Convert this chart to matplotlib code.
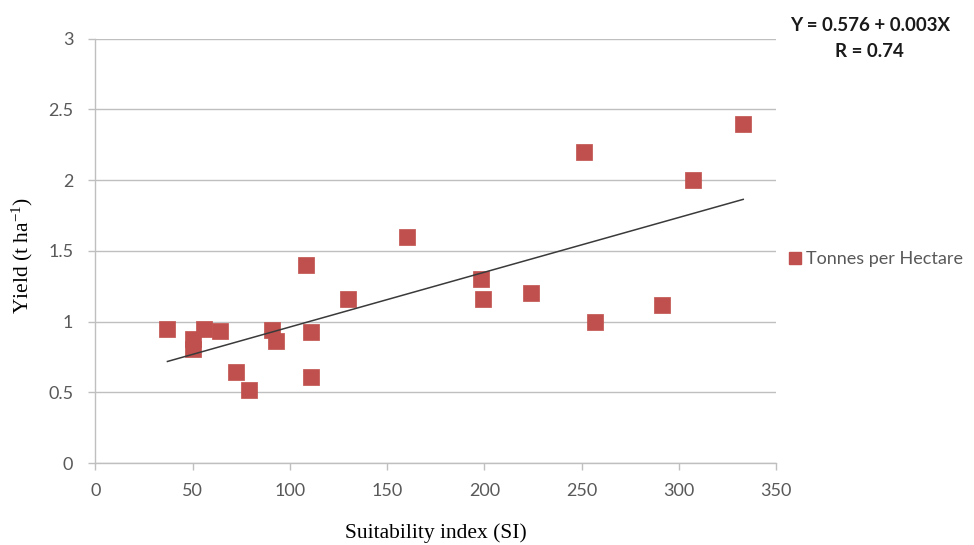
import numpy as np
import matplotlib
matplotlib.use("Agg")
import matplotlib.pyplot as plt
from matplotlib.lines import Line2D

plt.rcParams["mathtext.fontset"] = "custom"
plt.rcParams["mathtext.rm"] = "Liberation Serif"
plt.rcParams["mathtext.it"] = "Liberation Serif:italic"

# suitability index vs yield
si = [37, 50, 50, 56, 64, 72, 79, 91, 93, 108, 111, 111, 130,
      160, 198, 199, 224, 251, 257, 291, 307, 333]
yld = [0.95, 0.88, 0.81, 0.95, 0.935, 0.645, 0.52, 0.94, 0.865, 1.40, 0.93, 0.61, 1.16,
       1.60, 1.30, 1.16, 1.20, 2.20, 1.00, 1.12, 2.00, 2.40]

# regression line as printed on the chart
intercept = 0.576
slope = 0.00387
eq_text = "Y = 0.576 + 0.003X"
r_text = "R = 0.74"
series_name = "Tonnes per Hectare"

xticks = [0, 50, 100, 150, 200, 250, 300, 350]
yticks = [0, 0.5, 1, 1.5, 2, 2.5, 3]
ytick_labels = ["0", "0.5", "1", "1.5", "2", "2.5", "3"]

red = "#C0504D"
grey = "#595959"
gridc = "#BFBFBF"

fig = plt.figure(figsize=(9.74, 5.45), dpi=100)
ax = fig.add_axes([0.098, 0.150, 0.699, 0.779])

ax.scatter(si, yld, marker="s", s=135, color=red, edgecolors=red, linewidths=0.5, zorder=3)

xl = np.array([min(si), max(si)])
ax.plot(xl, intercept + slope * xl, color="#3a3a3a", lw=1.1, zorder=4)

ax.set_xlim(0, 350)
ax.set_ylim(0, 3)
ax.set_xticks(xticks)
ax.set_yticks(yticks)
ax.set_yticklabels(ytick_labels)
ax.grid(axis="y", color=gridc, lw=1.0)
ax.set_axisbelow(True)

for s in ["top", "right"]:
    ax.spines[s].set_visible(False)
for s in ["left", "bottom"]:
    ax.spines[s].set_color(gridc)
    ax.spines[s].set_linewidth(1.0)
ax.tick_params(axis="both", colors=gridc, length=5, width=1.0, labelcolor=grey, labelsize=13)
ax.tick_params(axis="x", pad=9)
ax.tick_params(axis="y", pad=11)
for lab in ax.get_xticklabels() + ax.get_yticklabels():
    lab.set_family("Lato")

ax.set_xlabel("Suitability index (SI)", family="Liberation Serif", fontsize=15.5)
ax.set_ylabel("Yield (t ha$^{\\mathrm{-1}}$)", family="Liberation Serif", fontsize=15.5)
ax.xaxis.set_label_coords(0.5, -0.165)
ax.yaxis.set_label_coords(-0.108, 0.49)
ax.xaxis.label.set_va("center")
ax.yaxis.label.set_va("center")

fig.text(0.893, 0.954, eq_text, ha="center", va="center", family="Lato",
         fontweight="bold", fontsize=13.5, color="#1a1a1a")
fig.text(0.893, 0.905, r_text, ha="center", va="center", family="Lato",
         fontweight="bold", fontsize=13.5, color="#1a1a1a")

handle = Line2D([], [], marker="s", ls="none", color=red, markersize=9)
fig.legend([handle], [series_name], loc="center left", bbox_to_anchor=(0.790, 0.525),
           frameon=False, handletextpad=0.1, handlelength=1.0,
           prop={"family": "Lato", "size": 13}, labelcolor=grey)

fig.savefig("out.png", dpi=100)
